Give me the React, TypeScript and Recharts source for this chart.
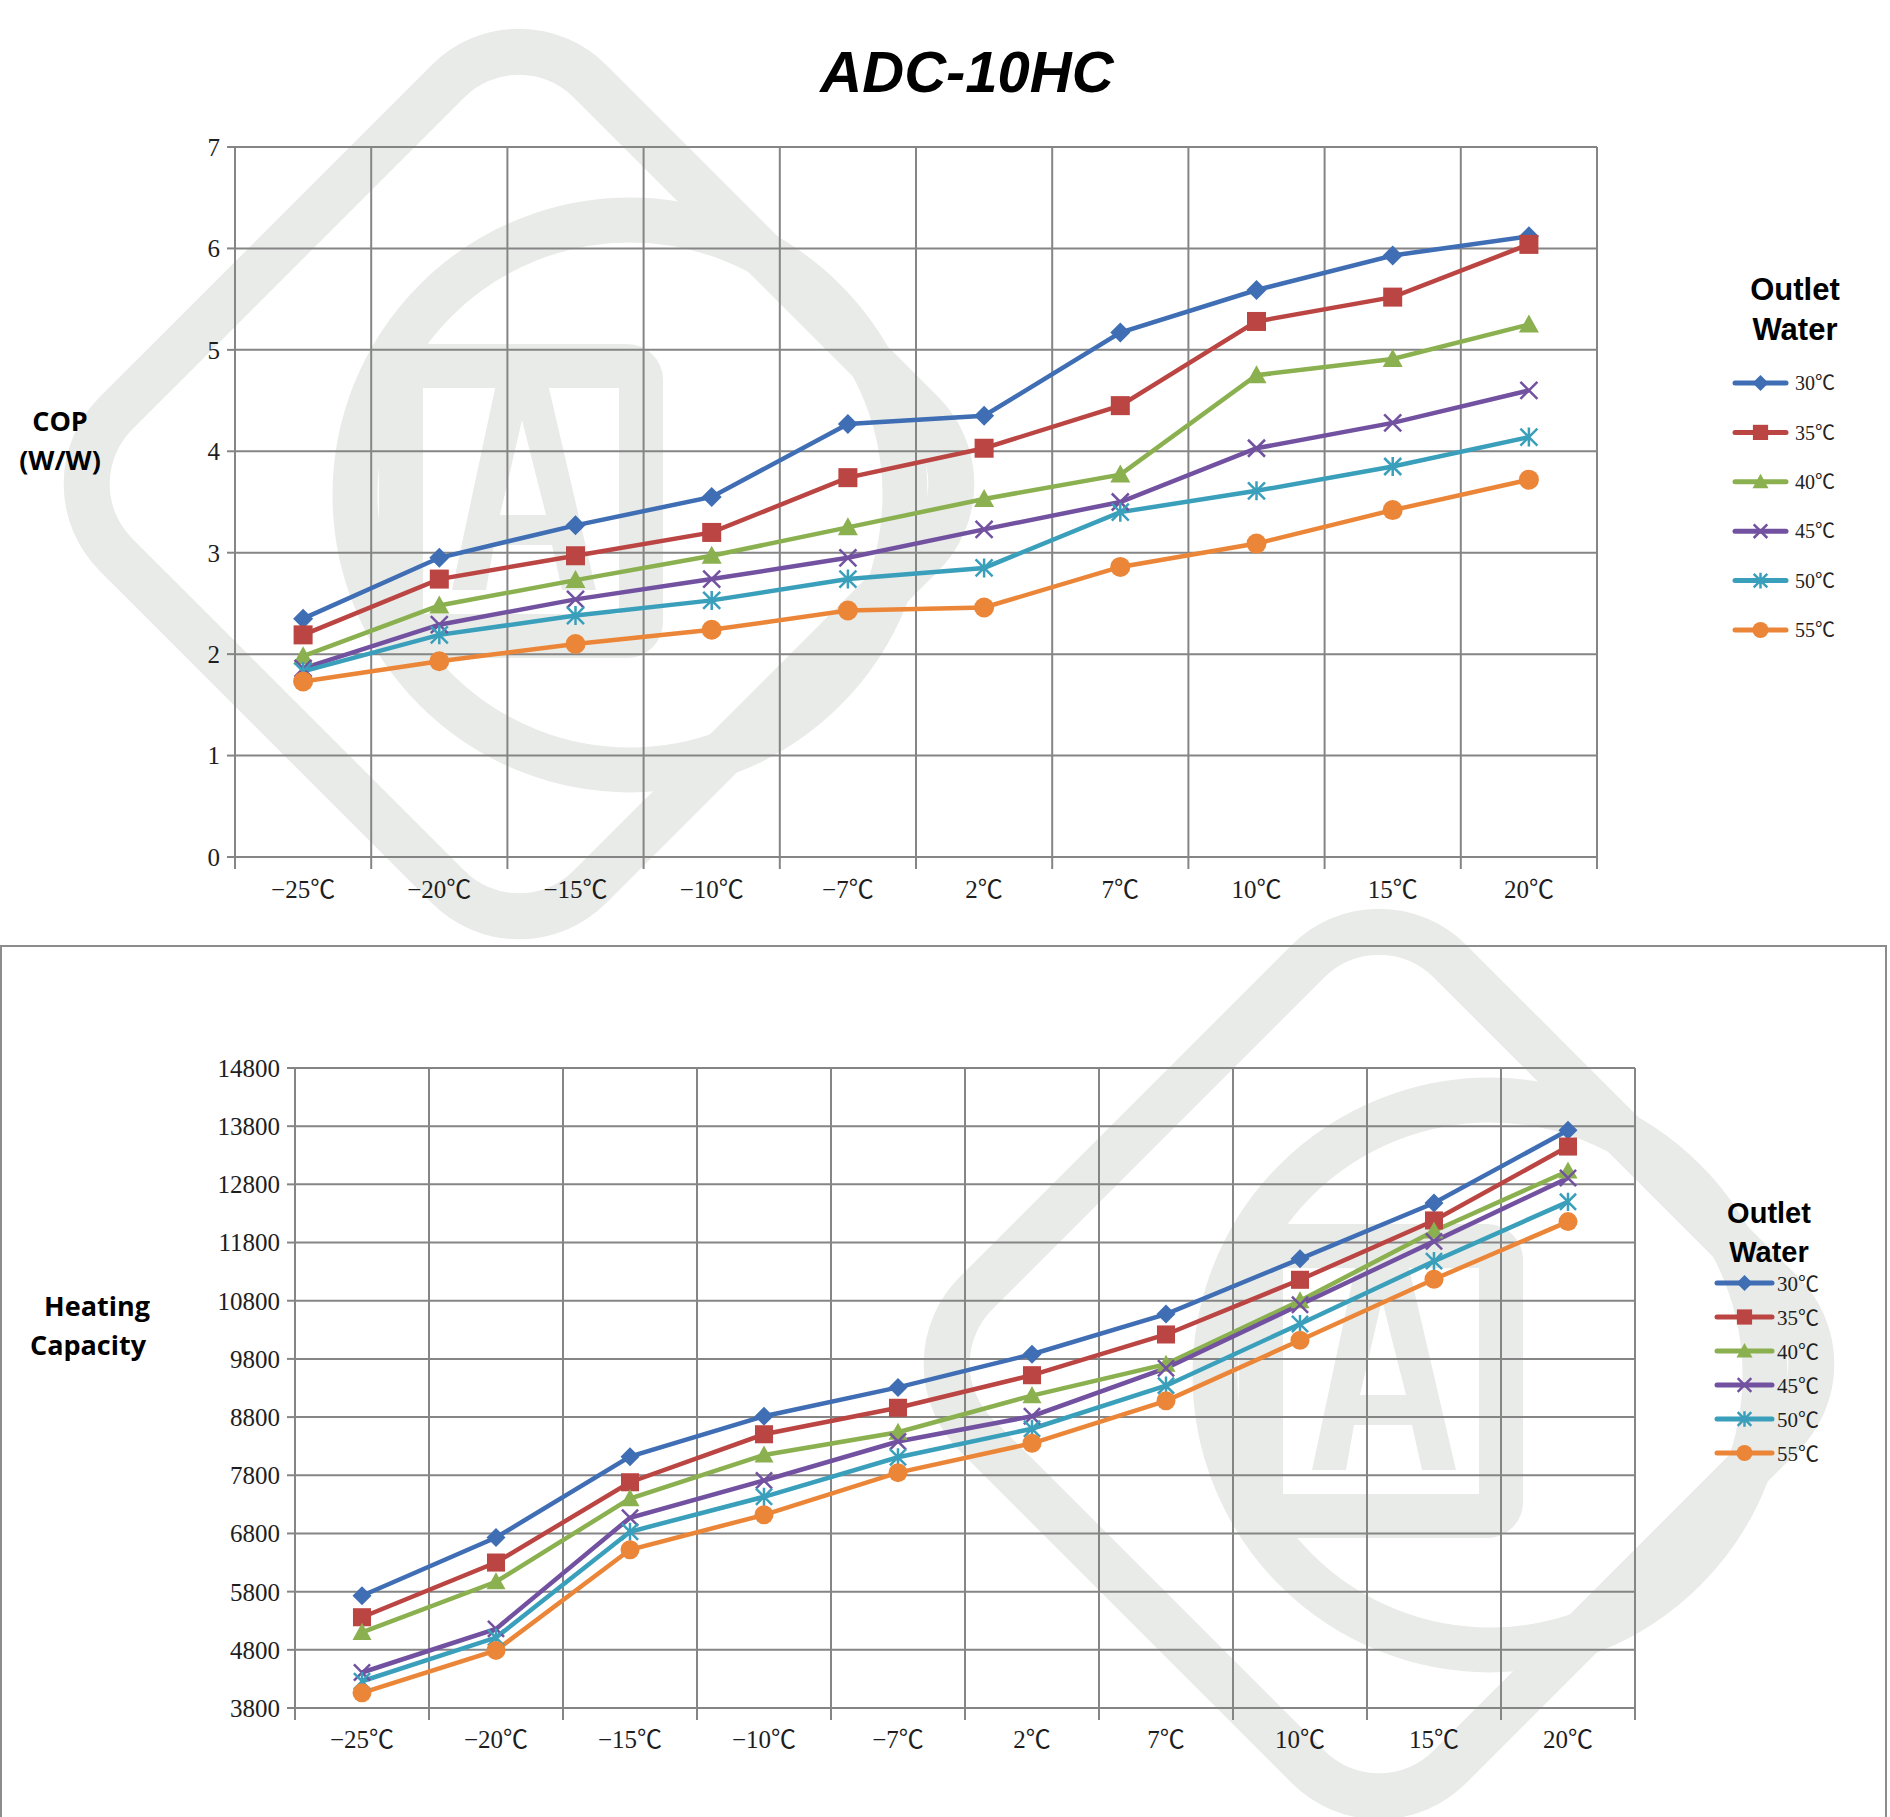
import React from 'react'
import { LineChart, Line, XAxis, YAxis, CartesianGrid, Legend } from 'recharts'

// ambient temperature categories (x axis)
const AMBIENT = ['−25℃', '−20℃', '−15℃', '−10℃', '−7℃', '2℃', '7℃', '10℃', '15℃', '20℃']
// outlet water temperatures (series)
const OUTLET = ['30℃', '35℃', '40℃', '45℃', '50℃', '55℃']

// COP (W/W)
const COP_30 = [2.35, 2.95, 3.27, 3.55, 4.27, 4.35, 5.17, 5.59, 5.93, 6.12]
const COP_35 = [2.19, 2.74, 2.97, 3.2, 3.74, 4.03, 4.45, 5.28, 5.52, 6.04]
const COP_40 = [1.98, 2.48, 2.73, 2.97, 3.25, 3.53, 3.77, 4.75, 4.91, 5.25]
const COP_45 = [1.86, 2.29, 2.54, 2.74, 2.95, 3.23, 3.5, 4.03, 4.28, 4.6]
const COP_50 = [1.83, 2.19, 2.38, 2.53, 2.74, 2.85, 3.4, 3.61, 3.85, 4.14]
const COP_55 = [1.73, 1.93, 2.1, 2.24, 2.43, 2.46, 2.86, 3.09, 3.42, 3.72]

// Heating capacity
const CAP_30 = [5730, 6730, 8120, 8815, 9310, 9880, 10570, 11520, 12480, 13730]
const CAP_35 = [5360, 6300, 7680, 8505, 8960, 9520, 10220, 11160, 12180, 13450]
const CAP_40 = [5100, 5970, 7400, 8150, 8540, 9170, 9710, 10800, 12000, 13030]
const CAP_45 = [4410, 5160, 7070, 7710, 8380, 8815, 9640, 10730, 11820, 12910]
const CAP_50 = [4260, 5010, 6830, 7430, 8110, 8600, 9340, 10400, 11480, 12500]
const CAP_55 = [4060, 4790, 6520, 7120, 7845, 8350, 9080, 10120, 11170, 12160]

const COP_TICKS = [0, 1, 2, 3, 4, 5, 6, 7]
const CAP_TICKS = [3800, 4800, 5800, 6800, 7800, 8800, 9800, 10800, 11800, 12800, 13800, 14800]

const COLORS = ['#3F6EB4', '#BB4542', '#8BB04F', '#7252A0', '#3A9FBB', '#EB8638']
const SHAPES = ['diamond', 'square', 'triangle', 'cross', 'star', 'circle']

const GRID = '#858585'
const WM = '#e9ebe8'
const SERIF = "'Liberation Serif', 'Noto Sans CJK SC', serif"
const SANS = "'Liberation Sans', Arial, sans-serif"

// category edges for grid lines, centres for the labels
const EDGES = AMBIENT.map((_, i) => i).concat([AMBIENT.length])
const CENTRES = AMBIENT.map((_, i) => i + 0.5)

const buildRows = (series: number[][]) =>
  AMBIENT.map((label, i) => {
    const row: any = { x: i + 0.5, label }
    series.forEach((vals, s) => {
      row['s' + s] = vals[i]
    })
    return row
  })

const COP_ROWS = buildRows([COP_30, COP_35, COP_40, COP_45, COP_50, COP_55])
const CAP_ROWS = buildRows([CAP_30, CAP_35, CAP_40, CAP_45, CAP_50, CAP_55])

const MARKER_SIZE = [20, 19, 20, 17, 17, 20]

function Marker({ cx, cy, shape, color, size }: any) {
  if (cx == null || cy == null) return null
  const r = size / 2
  switch (shape) {
    case 'diamond':
      return <polygon points={`${cx},${cy - r} ${cx + r},${cy} ${cx},${cy + r} ${cx - r},${cy}`} fill={color} />
    case 'square':
      return <rect x={cx - r} y={cy - r} width={size} height={size} fill={color} />
    case 'triangle':
      return <polygon points={`${cx},${cy - r} ${cx + r},${cy + r * 0.8} ${cx - r},${cy + r * 0.8}`} fill={color} />
    case 'cross':
      return (
        <path
          d={`M${cx - r},${cy - r}L${cx + r},${cy + r}M${cx - r},${cy + r}L${cx + r},${cy - r}`}
          stroke={color}
          strokeWidth={2.5}
        />
      )
    case 'star':
      return (
        <path
          d={`M${cx - r},${cy - r}L${cx + r},${cy + r}M${cx - r},${cy + r}L${cx + r},${cy - r}M${cx},${cy - r - 1}L${cx},${cy + r + 1}`}
          stroke={color}
          strokeWidth={2.5}
        />
      )
    default:
      return <circle cx={cx} cy={cy} r={r} fill={color} />
  }
}

const makeLegend = (cfg: any) => (props: any) => {
  const items = props.payload || []
  return (
    <svg width={cfg.w} height={cfg.h} style={{ overflow: 'visible', display: 'block' }}>
      <text x={cfg.cx} y={cfg.t1} textAnchor="middle" fontFamily={SANS} fontWeight="bold" fontSize={cfg.titleSize} fill="#000">
        Outlet
      </text>
      <text x={cfg.cx} y={cfg.t2} textAnchor="middle" fontFamily={SANS} fontWeight="bold" fontSize={cfg.titleSize} fill="#000">
        Water
      </text>
      {items.map((it: any, i: number) => {
        const s = Math.max(0, OUTLET.indexOf(it.value))
        const y = cfg.row0 + i * cfg.gap
        return (
          <g key={it.value}>
            <line x1={cfg.lx1} x2={cfg.lx2} y1={y} y2={y} stroke={it.color} strokeWidth={5} strokeLinecap="round" />
            <Marker cx={(cfg.lx1 + cfg.lx2) / 2} cy={y} shape={SHAPES[s]} color={COLORS[s]} size={MARKER_SIZE[s] * 0.8} />
            <text x={cfg.tx} y={y} dy="0.36em" fontFamily={SERIF} fontSize={cfg.fontSize} fill="#222">
              {it.value}
            </text>
          </g>
        )
      })}
    </svg>
  )
}

const NoLabel = () => <g />

function Panel({ rows, domain, ticks, height, margin, labelHeight, labelMargin, legend, legendPos, markerScale }: any) {
  const tickStyle = { fill: '#1e1e1e', fontSize: 25, fontFamily: SERIF }
  return (
    <LineChart width={1890} height={height} data={rows} margin={margin}>
      <CartesianGrid xAxisId="grid" stroke={GRID} strokeWidth={2} />
      <XAxis
        xAxisId="grid"
        type="number"
        dataKey="x"
        domain={[0, AMBIENT.length]}
        allowDataOverflow
        ticks={EDGES}
        interval={0}
        tick={NoLabel}
        tickSize={12}
        height={14}
        axisLine={{ stroke: GRID, strokeWidth: 2 }}
        tickLine={{ stroke: GRID, strokeWidth: 2 }}
      />
      <XAxis
        xAxisId="labels"
        type="number"
        dataKey="x"
        domain={[0, AMBIENT.length]}
        allowDataOverflow
        ticks={CENTRES}
        interval={0}
        tickFormatter={(v: number) => AMBIENT[Math.floor(v)]}
        axisLine={false}
        tickLine={false}
        tickSize={0}
        tickMargin={labelMargin}
        height={labelHeight}
        tick={tickStyle}
      />
      <YAxis
        type="number"
        domain={domain}
        ticks={ticks}
        interval={0}
        allowDataOverflow
        width={60}
        tickSize={8}
        tickMargin={7}
        axisLine={{ stroke: GRID, strokeWidth: 2 }}
        tickLine={{ stroke: GRID, strokeWidth: 2 }}
        tick={tickStyle}
      />
      <Legend
        layout="vertical"
        align="center"
        verticalAlign="middle"
        content={makeLegend(legend)}
        wrapperStyle={{ left: legendPos.left, top: legendPos.top, width: legend.w, height: legend.h }}
      />
      {OUTLET.map((name, s) => (
        <Line
          key={name}
          xAxisId="grid"
          type="linear"
          dataKey={'s' + s}
          name={name}
          stroke={COLORS[s]}
          strokeWidth={4.5}
          isAnimationActive={false}
          activeDot={false}
          dot={(p: any) => (
            <Marker
              key={`${name}-${p.index}`}
              cx={p.cx}
              cy={p.cy}
              shape={SHAPES[s]}
              color={COLORS[s]}
              size={MARKER_SIZE[s] * markerScale}
            />
          )}
        />
      ))}
    </LineChart>
  )
}

function Watermark({ dx, dy }: any) {
  return (
    <g transform={`translate(${dx},${dy})`}>
      <rect
        x={519 - 335}
        y={484 - 335}
        width={670}
        height={670}
        rx={100}
        fill="none"
        stroke={WM}
        strokeWidth={46}
        transform="rotate(45 519 484)"
      />
      <circle cx={630} cy={495} r={275} fill="none" stroke={WM} strokeWidth={45} />
      <rect x={401} y={366} width={240} height={270} rx={14} fill="none" stroke={WM} strokeWidth={44} />
      <path d="M452,590 L496,384 L548,384 L596,590 L562,590 L552,545 L494,545 L486,590 Z M500,515 L546,515 L522,420 Z" fill={WM} fillRule="evenodd" />
    </g>
  )
}

export default function App() {
  return (
    <div style={{ position: 'relative', width: 1890, height: 1817, overflow: 'hidden', background: '#fff' }}>
      <style>{'body{margin:0}'}</style>
      <svg width={1890} height={1817} style={{ position: 'absolute', left: 0, top: 0 }}>
        <Watermark dx={0} dy={0} />
        <Watermark dx={860} dy={880} />
      </svg>

      <div style={{ position: 'absolute', left: 0, top: 0 }}>
        <Panel
          rows={COP_ROWS}
          domain={[0, 7]}
          ticks={COP_TICKS}
          height={940}
          margin={{ top: 147, right: 293, bottom: 0, left: 175 }}
          labelHeight={69}
          labelMargin={9}
          markerScale={1}
          legendPos={{ left: 1700, top: 250 }}
          legend={{ w: 190, h: 420, cx: 95, t1: 50, t2: 90, titleSize: 31, row0: 133, gap: 49.4, lx1: 35, lx2: 86, tx: 95, fontSize: 20 }}
        />
      </div>

      <div
        style={{
          position: 'absolute',
          left: 0,
          top: 945,
          width: 1883,
          height: 900,
          border: '2px solid #8c8c8c',
        }}
      />

      <div style={{ position: 'absolute', left: 0, top: 946 }}>
        <Panel
          rows={CAP_ROWS}
          domain={[3800, 14800]}
          ticks={CAP_TICKS}
          height={871}
          margin={{ top: 122, right: 255, bottom: 0, left: 235 }}
          labelHeight={95}
          labelMargin={8}
          markerScale={0.95}
          legendPos={{ left: 1690, top: 234 }}
          legend={{ w: 190, h: 300, cx: 79, t1: 43, t2: 82, titleSize: 29, row0: 103, gap: 34, lx1: 27, lx2: 82, tx: 87, fontSize: 21 }}
        />
      </div>

      <svg width={1890} height={1817} style={{ position: 'absolute', left: 0, top: 0, pointerEvents: 'none' }}>
        <text x={967} y={92} textAnchor="middle" fontFamily={SANS} fontWeight="bold" fontStyle="italic" fontSize={58} fill="#000">
          ADC-10HC
        </text>
        <g fontFamily="'Open Sans', sans-serif" fontWeight="bold" fontSize={27} fill="#000" textAnchor="middle">
          <text x={60} y={431}>COP</text>
          <text x={60} y={470}>(W/W)</text>
          <text x={97} y={1316}>Heating</text>
          <text x={88} y={1355}>Capacity</text>
        </g>
      </svg>
    </div>
  )
}
